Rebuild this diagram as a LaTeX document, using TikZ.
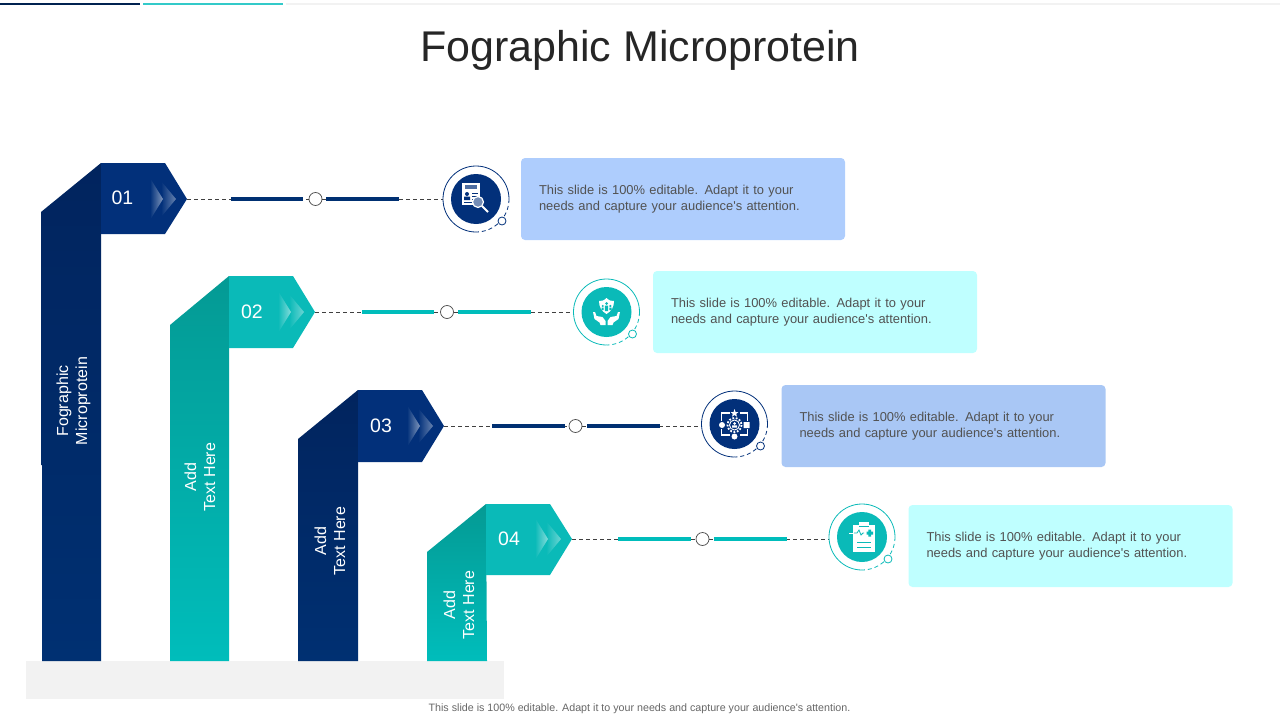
\documentclass[tikz,border=0pt]{standalone}
\usepackage{fontspec}
\setmainfont{Liberation Sans}[Ligatures=TeXOff]
\usetikzlibrary{calc,fadings}
\definecolor{navytag}{HTML}{02307A}
\definecolor{navytop}{HTML}{01245E}
\definecolor{navybot}{HTML}{003072}
\definecolor{tealtag}{HTML}{0ABAB8}
\definecolor{tealtop}{HTML}{049A94}
\definecolor{tealbot}{HTML}{00BDBB}
\definecolor{navybox}{HTML}{AECDFD}
\definecolor{tealbox}{HTML}{BFFFFF}
\tikzset{
    x=1pt,
    y=-1pt,
    navycol/.style={top color=navytop, bottom color=navybot, draw=none},
    tealcol/.style={top color=tealtop, bottom color=tealbot, draw=none},
    number/.style={text=white, font=\fontsize{19.5}{20}\selectfont},
    coltext/.style={text=white, rotate=90, align=center, font=\fontsize{16}{19}\selectfont},
    textbox/.style={
        rectangle,
        rounded corners=4pt,
        minimum width=324pt,
        minimum height=82pt,
        text width=288pt,
        align=left,
        text=black!68,
        font=\fontsize{12.9}{16}\selectfont,
    },
    disc/.style={circle, minimum size=50pt, inner sep=0pt},
    ringspot/.style={circle, minimum size=66pt, inner sep=0pt},
    dot/.style={circle, draw=black!70, fill=white, line width=0.7pt, minimum size=13pt, inner sep=0pt},
    link/.style={dashed, dash pattern=on 4pt off 3pt, line width=0.7pt, draw=black!75},
    bar/.style={line width=3.5pt},
    chevrons/.pic={
        \fill[white, fill opacity=.5, path fading=west] (-37,-21) -- (-24,0) -- (-37,21) -- cycle;
        \fill[white, fill opacity=.4, path fading=west] (-26,-18) -- (-11,0) -- (-26,18) -- (-24,0) -- cycle;
    },
    ringmark/.pic={
        \draw[#1, line width=0.8pt] (33,0) arc[start angle=0, end angle=-270, radius=33];
        \draw[#1, line width=0.8pt, dash pattern=on 4pt off 3pt] (33,0) arc[start angle=0, end angle=90, radius=33];
        \draw[#1, fill=white, line width=0.8pt] (26,22) circle[radius=4];
    },
}
\begin{document}
\begin{tikzpicture}
    \useasboundingbox (0,0) rectangle (1280,720);

    % top strip
    \fill[black!5] (286,3) rectangle (1280,4.5);
    \fill[navybot!70!black] (0,2.5) rectangle (140,5);
    \fill[tealbot!80!white] (143,2.5) rectangle (283,5);

    \node[text=black!85, font=\fontsize{43}{46}\selectfont] (title) at (640,50) {Fographic Microprotein};

    % ground
    \fill[black!5] (26,661) rectangle (504,699);

    % columns
    \path[navycol] (101,163) -- (41,212) -- (41,465) -- (42,465) -- (42,661) -- (101,661) -- cycle;
    \path[tealcol] (229,276) -- (170,325) -- (170,661) -- (229,661) -- cycle;
    \path[navycol] (358,390) -- (298,439) -- (298,661) -- (358,661) -- cycle;
    \path[tealcol] (486,504) -- (427,552) -- (427,661) -- (487,661) -- cycle;

    % tags
    \coordinate (tipA) at (187,199);
    \coordinate (tipB) at (315,312);
    \coordinate (tipC) at (444,426);
    \coordinate (tipD) at (572,539);
    \fill[navytag] (101,163) -- (165,163) -- (tipA) -- (165,234) -- (101,234) -- cycle;
    \fill[tealtag] (229,276) -- (293,276) -- (tipB) -- (293,348) -- (229,348) -- cycle;
    \fill[navytag] (358,390) -- (422,390) -- (tipC) -- (422,462) -- (358,462) -- cycle;
    \fill[tealtag] (486,504) -- (550,504) -- (tipD) -- (550,575) -- (486,575) -- cycle;
    \pic at (tipA) {chevrons};
    \pic at (tipB) {chevrons};
    \pic at (tipC) {chevrons};
    \pic at (tipD) {chevrons};

    \node[number] (numA) at (122.5,198) {01};
    \node[number] (numB) at (252,312) {02};
    \node[number] (numC) at (381,426) {03};
    \node[number] (numD) at (509,539) {04};

    \node[coltext] (colA) at (73.5,401) {Fographic\\Microprotein};
    \node[coltext] (colB) at (200,477) {Add\\Text Here};
    \node[coltext] (colC) at (330,541) {Add\\Text Here};
    \node[coltext] (colD) at (459,605) {Add\\Text Here};

    % rings
    \node[ringspot] (ringA) at (476,199) {};
    \node[ringspot] (ringB) at (606.5,312) {};
    \node[ringspot] (ringC) at (734.5,424) {};
    \node[ringspot] (ringD) at (862,537) {};

    % connectors
    \node[dot] (dotA) at (315.5,199) {};
    \node[dot] (dotB) at (447,312) {};
    \node[dot] (dotC) at (575.5,426) {};
    \node[dot] (dotD) at (702.5,539) {};
    \draw[link] (tipA) -- (dotA) -- (ringA.west);
    \draw[link] (tipB) -- (dotB) -- (ringB.west);
    \draw[link] (tipC) -- (dotC) -- (ringC.west |- dotC);
    \draw[link] (tipD) -- (dotD) -- (ringD.west |- dotD);
    \draw[bar, navybot] (231,199) -- (303,199) (326,199) -- (399,199);
    \draw[bar, tealbot] (362,312) -- (434,312) (458,312) -- (531,312);
    \draw[bar, navybot] (492,426) -- (565,426) (587,426) -- (660,426);
    \draw[bar, tealbot] (618,539) -- (691,539) (714,539) -- (787,539);

    \pic at (ringA) {ringmark=navytag};
    \pic at (ringB) {ringmark=tealtag};
    \pic at (ringC) {ringmark=navytag};
    \pic at (ringD) {ringmark=tealtag};
    \node[disc, fill=navytag] (discA) at (ringA) {};
    \node[disc, fill=tealtag] (discB) at (ringB) {};
    \node[disc, fill=navytag] (discC) at (ringC) {};
    \node[disc, fill=tealtag] (discD) at (ringD) {};

    % icon: record under a lens
    \begin{scope}[shift={(476,199)}]
        \fill[white] (-14,-16) rectangle (4,6);
        \fill[navytag!70] (-11,-14) rectangle (1,-10);
        \fill[navytag] (-9,-5) circle[radius=2] (-12,1) rectangle (-6,-2.5);
        \draw[navytag, line width=0.8pt] (-4,-6) -- (2,-6) (-4,-3) -- (2,-3) (-4,0) -- (-1,0) (-12,3.5) -- (-1,3.5);
        \draw[white, fill=navytag!55, line width=1.2pt] (2,3) circle[radius=5.5];
        \draw[white, line width=1.8pt] (6,7) -- (12,13);
    \end{scope}

    % icon: hands under a shield
    \begin{scope}[shift={(606.5,312)}]
        \fill[white] (0,-14) .. controls (3,-11) and (5,-11) .. (7.5,-11) .. controls (7.5,-5) and (5,-1) .. (0,2) .. controls (-5,-1) and (-7.5,-5) .. (-7.5,-11) .. controls (-5,-11) and (-3,-11) .. cycle;
        \fill[tealtag] (0,-8.5) circle[radius=1.5] (-3.8,-6) circle[radius=1.2] (3.8,-6) circle[radius=1.2];
        \fill[tealtag] (-1.6,-6.5) rectangle (1.6,-1) (-5,-4.5) rectangle (-2.8,-2) (2.8,-4.5) rectangle (5,-2);
        \fill[white] (-13.5,0) -- (-11.5,0) -- (-10,4) -- (-4,5) -- (-1,9) -- (-1,13) -- (-6,13) -- (-7,10.5) -- (-12,7) -- cycle;
        \fill[white] (13.5,0) -- (11.5,0) -- (10,4) -- (4,5) -- (1,9) -- (1,13) -- (6,13) -- (7,10.5) -- (12,7) -- cycle;
    \end{scope}

    % icon: frame of arrows round a gear
    \begin{scope}[shift={(734.5,424)}]
        \draw[white, line width=1.2pt] (-5,-11) -- (-13,-11) -- (-13,-3) (5,-11) -- (13,-11) -- (13,-3) (-13,5) -- (-13,11) -- (-5,11) (13,5) -- (13,11) -- (5,11);
        \fill[white] (0,-15) -- (1,-12) -- (4,-12) -- (1.7,-10.2) -- (2.5,-7.3) -- (0,-9) -- (-2.5,-7.3) -- (-1.7,-10.2) -- (-4,-12) -- (-1,-12) -- cycle;
        \fill[white] (-12.5,1) circle[radius=3] (0,12.5) circle[radius=3] (9,-2) rectangle (15,4);
        \draw[white, line width=1.8pt, dash pattern=on 1.8pt off 1.6pt] (0,1) circle[radius=7];
        \draw[white, line width=0.9pt] (0,1) circle[radius=5];
        \fill[white] (0,-0.5) circle[radius=1.5] (-2.5,3.5) rectangle (2.5,1.3);
    \end{scope}

    % icon: clipboard with pulse
    \begin{scope}[shift={(862,538)}]
        \fill[white] (-9,-13) rectangle (13,14);
        \fill[white] (-3,-16) rectangle (7,-11);
        \draw[tealtag, line width=0.7pt] (-3,-12) -- (7,-12);
        \draw[white, line width=0.8pt] (-13,-5) -- (-8,-5);
        \draw[tealtag, line width=0.8pt] (-8,-5) -- (-5,-5) -- (-3,-8) -- (-1,-3) -- (1,-5) -- (2,-5);
        \fill[tealtag] (4.5,-6.5) rectangle (11,-3.5) (6.3,-8.5) rectangle (9.2,-1.5);
        \draw[tealtag, line width=1pt] (-5,4) -- (9,4) (-5,9) -- (9,9);
    \end{scope}

    % text boxes
    \node[textbox, fill=navybox] (boxA) at (683,199) {This slide is 100\% editable. Adapt it to your\\needs and capture your audience's attention.};
    \node[textbox, fill=tealbox] (boxB) at (815,312) {This slide is 100\% editable. Adapt it to your\\needs and capture your audience's attention.};
    \node[textbox, fill=navybox!97!black] (boxC) at (943.5,426) {This slide is 100\% editable. Adapt it to your\\needs and capture your audience's attention.};
    \node[textbox, fill=tealbox] (boxD) at (1070.5,546) {This slide is 100\% editable. Adapt it to your\\needs and capture your audience's attention.};

    \node[text=black!60, font=\fontsize{10.7}{12}\selectfont] (footer) at (639.5,708.5) {This slide is 100\% editable. Adapt it to your needs and capture your audience's attention.};
\end{tikzpicture}
\end{document}
